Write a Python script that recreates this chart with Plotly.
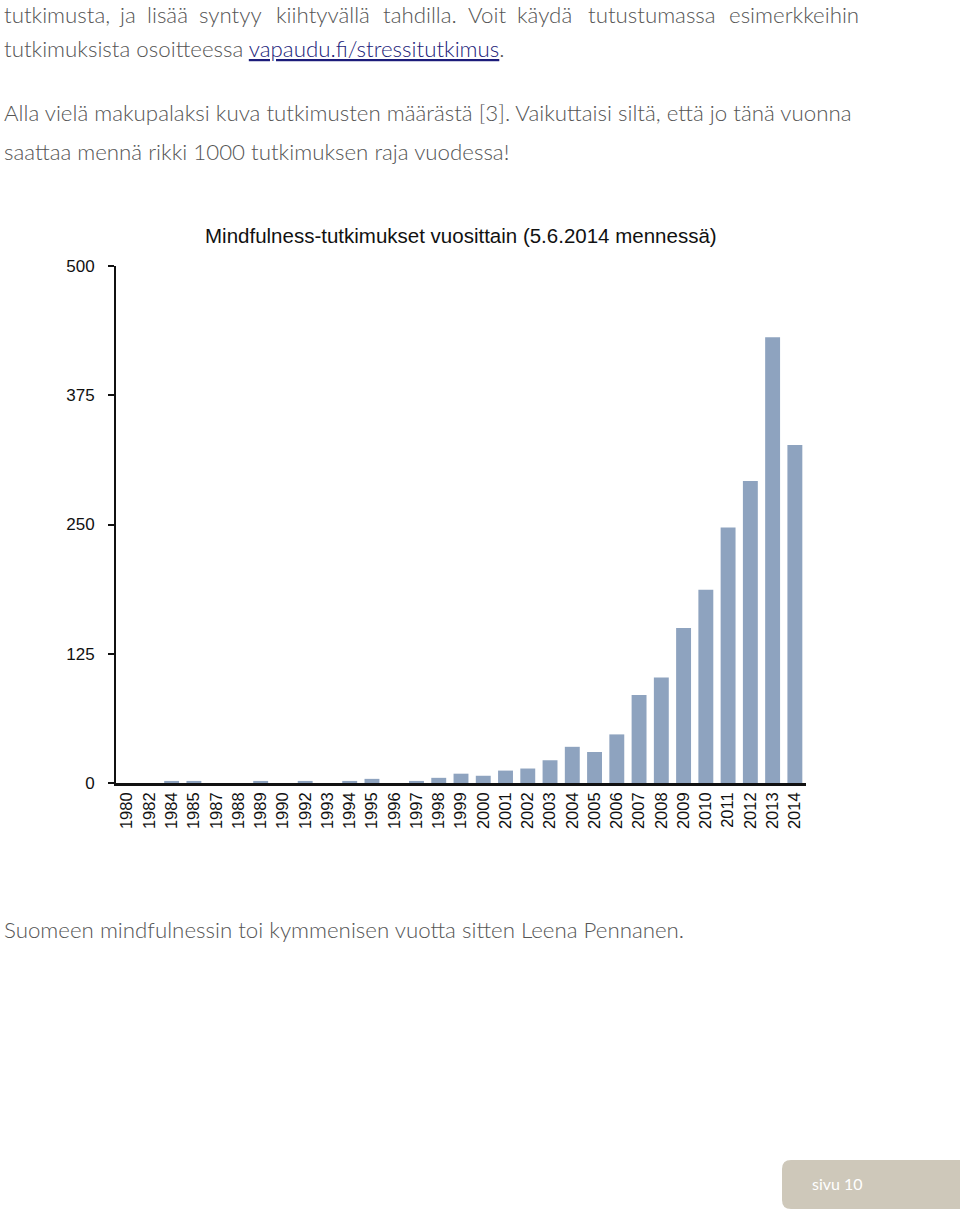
import plotly.graph_objects as go

years = ["1980", "1982", "1984", "1985", "1987", "1988", "1989", "1990", "1992", "1993",
         "1994", "1995", "1996", "1997", "1998", "1999", "2000", "2001", "2002", "2003",
         "2004", "2005", "2006", "2007", "2008", "2009", "2010", "2011", "2012", "2013", "2014"]
counts = [0, 0, 2, 2, 0, 0, 2, 0, 2, 0,
          2, 4, 0, 2, 5, 9, 7, 12, 14, 22,
          35, 30, 47, 85, 102, 150, 187, 247, 292, 431, 327]
y_ticks = [0, 125, 250, 375, 500]
chart_title = "Mindfulness-tutkimukset vuosittain (5.6.2014 mennessä)"

W, H = 960, 1212
L, R, T, B = 116, 154, 266, 429
PW, PH = W - L - R, H - T - B


def px(x):
    return (x - L) / PW


def py(y):
    return 1 - (y - T) / PH


BAR = "#8ea3bf"
TEXT = "#555555"
BODY_FONT = "Lato"
BODY_SIZE = 22.3

fig = go.Figure(go.Bar(x=years, y=counts, marker_color=BAR, marker_line_width=0))

annotations = []

# justified first line: words placed individually (anchor, x position)
line1 = [("tutkimusta,", "left", 2), ("ja", "center", 127), ("lisää", "center", 167),
         ("syntyy", "center", 230), ("kiihtyvällä", "center", 323), ("tahdilla.", "center", 420),
         ("Voit", "center", 487), ("käydä", "center", 544), ("tutustumassa", "center", 652),
         ("esimerkkeihin", "right", 861)]
for w, anc, x0 in line1:
    annotations.append(dict(text=w, x=px(x0), y=py(14), xref="paper", yref="paper",
                            xanchor=anc, yanchor="middle", showarrow=False,
                            font=dict(family=BODY_FONT, size=BODY_SIZE, color=TEXT, weight=300)))

body_lines = [
    ("tutkimuksista osoitteessa <span style='color:#1c1c7a'><u>vapaudu.fi/stressitutkimus</u></span>.", 48),
    ("Alla vielä makupalaksi kuva tutkimusten määrästä [3]. Vaikuttaisi siltä, että jo tänä vuonna", 112),
    ("saattaa mennä rikki 1000 tutkimuksen raja vuodessa!", 151),
    ("Suomeen mindfulnessin toi kymmenisen vuotta sitten Leena Pennanen.", 929),
]
for txt, yy in body_lines:
    annotations.append(dict(text=txt, x=px(2), y=py(yy), xref="paper", yref="paper",
                            xanchor="left", yanchor="middle", showarrow=False,
                            font=dict(family=BODY_FONT, size=BODY_SIZE, color=TEXT, weight=300)))

annotations.append(dict(text=chart_title, x=px(461), y=py(235), xref="paper", yref="paper",
                        xanchor="center", yanchor="middle", showarrow=False,
                        font=dict(family="Liberation Sans", size=20.5, color="#111111")))

annotations.append(dict(text="sivu 10", x=px(810), y=py(1183), xref="paper", yref="paper",
                        xanchor="left", yanchor="middle", showarrow=False,
                        font=dict(family=BODY_FONT, size=16, color="#ffffff")))

# page badge with rounded corners
x0, x1, y0, y1, r = px(782), px(962), py(1160), py(1209), 9
rx, ry = r / PW, r / PH
path = (f"M {x0+rx},{y0} L {x1},{y0} L {x1},{y1} L {x0+rx},{y1} "
        f"Q {x0},{y1} {x0},{y1+ry} L {x0},{y0-ry} Q {x0},{y0} {x0+rx},{y0} Z")
shapes = [dict(type="path", path=path, xref="paper", yref="paper",
               fillcolor="#cec8ba", line=dict(width=0), layer="below")]

fig.update_layout(
    width=W, height=H,
    margin=dict(l=L, r=R, t=T, b=B, pad=0),
    paper_bgcolor="white", plot_bgcolor="white",
    bargap=0.33, showlegend=False,
    annotations=annotations, shapes=shapes,
    font=dict(family="Liberation Sans", color="#111111"),
)
fig.update_xaxes(
    type="category", tickangle=-90, showgrid=False, zeroline=False,
    showline=True, linecolor="#111111", linewidth=2.5, ticks="",
    tickfont=dict(family="Liberation Sans", size=16.5, color="#111111"),
    range=[-0.5, len(years) - 0.5], fixedrange=True,
)
fig.update_yaxes(
    range=[0, 500], tickvals=y_ticks, showgrid=False, zeroline=False,
    showline=True, linecolor="#111111", linewidth=2, ticks="outside", ticklen=6,
    tickwidth=2, tickcolor="#111111", ticklabelstandoff=10,
    tickfont=dict(family="Liberation Sans", size=17, color="#111111"), fixedrange=True,
)

fig.write_html("out.html", config={"displayModeBar": False},
               post_script="document.body.style.margin='0';")
